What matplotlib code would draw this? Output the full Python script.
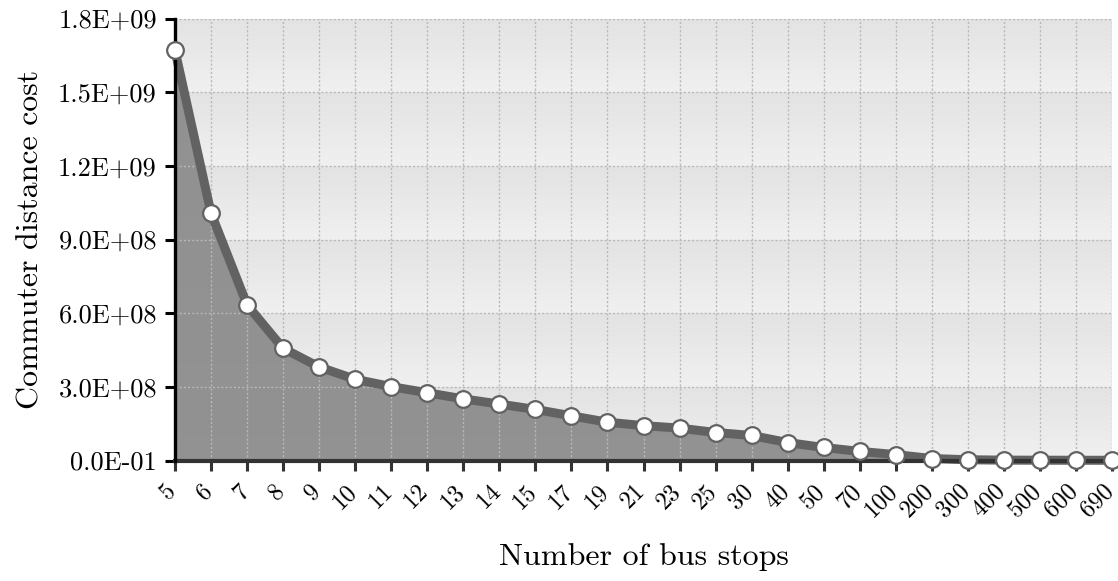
import numpy as np
import matplotlib
matplotlib.use("Agg")
import matplotlib.pyplot as plt
import matplotlib.transforms as mtransforms
from matplotlib.colors import LinearSegmentedColormap

plt.rcParams['font.family'] = ['cmr10', 'DejaVu Serif']
plt.rcParams['mathtext.fontset'] = 'cm'
plt.rcParams['axes.unicode_minus'] = False

stops = ["5", "6", "7", "8", "9", "10", "11", "12", "13", "14", "15", "17", "19",
         "21", "23", "25", "30", "40", "50", "70", "100", "200", "300", "400",
         "500", "600", "690"]
cost = [1.671e9, 1.008e9, 0.634e9, 0.457e9, 0.381e9, 0.331e9, 0.301e9, 0.276e9,
        0.251e9, 0.230e9, 0.208e9, 0.182e9, 0.156e9, 0.142e9, 0.132e9, 0.114e9,
        0.102e9, 0.073e9, 0.053e9, 0.037e9, 0.024e9, 0.008e9, 0.003e9, 0.0015e9,
        0.0012e9, 0.0010e9, 0.0009e9]
yticks = [0, 3e8, 6e8, 9e8, 1.2e9, 1.5e9, 1.8e9]
ytick_labels = ["0.0E-01", "3.0E+08", "6.0E+08", "9.0E+08", "1.2E+09", "1.5E+09", "1.8E+09"]

fig = plt.figure(figsize=(11.18, 5.81), dpi=100)
ax = fig.add_axes([175/1118, 120.5/581, (1112-175)/1118, (460.5-18.7)/581])

x = np.arange(len(stops))
xmax = len(stops) - 1
ax.set_xlim(0, xmax)
ax.set_ylim(0, 1.8e9)

# gradient bands
cmap = LinearSegmentedColormap.from_list("band", ["#f0f0f0", "#e3e3e3"])
grad = np.linspace(0, 1, 64).reshape(-1, 1)
for lo, hi in zip(yticks[:-1], yticks[1:]):
    ax.imshow(grad, cmap=cmap, aspect='auto', extent=(0, xmax, lo, hi),
              origin='lower', zorder=0, interpolation='bilinear')

ax.grid(True, color="#b8b8b8", linestyle=(0, (1.5, 1.5)), linewidth=1.0, zorder=1)
ax.set_axisbelow(False)

ax.fill_between(x, cost, 0, color="#8a8a8a", alpha=0.92, zorder=2, linewidth=0)
ax.plot(x, cost, color="#626262", linewidth=6.5, zorder=3, solid_joinstyle='round',
        solid_capstyle='round', clip_on=False)
ax.plot(x, cost, linestyle='none', marker='o', markersize=12, markerfacecolor='white',
        markeredgecolor='#626262', markeredgewidth=1.6, zorder=4, clip_on=False)

for gl in ax.get_xgridlines() + ax.get_ygridlines():
    gl.set_zorder(1)

ax.set_xticks(x)
ax.set_xticklabels([])
trans = mtransforms.blended_transform_factory(ax.transData, ax.transAxes)
offset = mtransforms.ScaledTranslation(-7/72, -14/72, fig.dpi_scale_trans)
for xi, lab in zip(x, stops):
    ax.text(xi, 0, lab, transform=trans + offset, rotation=45, ha='right', va='top',
            rotation_mode='anchor', fontsize=17.5, clip_on=False)
ax.set_yticks(yticks)
ax.set_yticklabels(ytick_labels, fontsize=19)

ax.spines['top'].set_visible(False)
ax.spines['right'].set_visible(False)
ax.spines['left'].set_color('black')
ax.spines['left'].set_linewidth(2.4)
ax.spines['left'].set_zorder(3.6)
ax.spines['bottom'].set_color('#333333')
ax.spines['bottom'].set_linewidth(3)
ax.spines['bottom'].set_zorder(3.5)
ax.tick_params(axis='both', direction='out', length=7, width=2.2, pad=6)
ax.tick_params(axis='x', colors='#333333')

fig.text((175 + 1112) / 2 / 1118, 1 - 557 / 581, "Number of bus stops", fontsize=23,
         ha='center', va='center')
ax.set_ylabel("Commuter distance cost", fontsize=23, labelpad=10)

fig.savefig("out.png", dpi=100)
